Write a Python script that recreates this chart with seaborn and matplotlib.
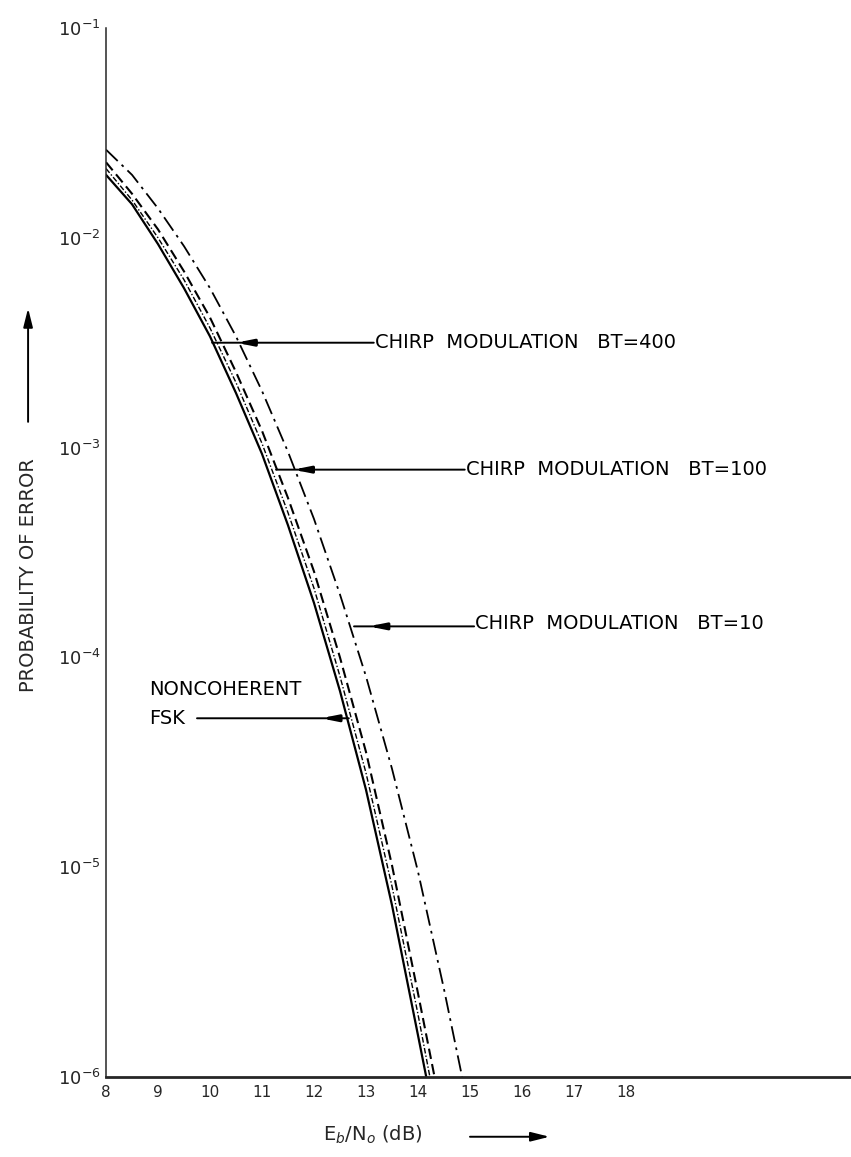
import numpy as np
import pandas as pd
import matplotlib
matplotlib.use("Agg")
import matplotlib.pyplot as plt
import seaborn as sns

# ---- data (Eb/No in dB, log10 of error probability) ----
ebno = [8.0, 8.5, 9.0, 9.5, 10.0, 10.5, 11.0, 11.5, 12.0, 12.5, 13.0, 13.5, 14.0]

fsk_db = ebno + [14.16]
fsk_log = [-1.70, -1.84, -2.03, -2.24, -2.47, -2.74, -3.03, -3.37, -3.74, -4.16, -4.63, -5.18, -5.80, -6.0]

bt400_db = ebno + [14.23]
bt400_log = [-1.67, -1.82, -2.00, -2.20, -2.43, -2.69, -2.98, -3.31, -3.67, -4.09, -4.55, -5.09, -5.70, -6.0]

bt100_db = ebno + [14.32]
bt100_log = [-1.64, -1.79, -1.96, -2.16, -2.38, -2.64, -2.92, -3.24, -3.59, -4.00, -4.45, -4.99, -5.60, -6.0]

bt10_db = ebno + [14.5, 14.85]
bt10_log = [-1.58, -1.70, -1.86, -2.04, -2.24, -2.47, -2.73, -3.02, -3.34, -3.70, -4.09, -4.53, -5.02, -5.58, -6.0]

series_names = ["FSK", "BT=400", "BT=100", "BT=10"]
x_ticks = [8, 9, 10, 11, 12, 13, 14, 15, 16, 17, 18]
x_tick_labels = ["8", "9", "10", "11", "12", "13", "14", "15", "16", "17", "18"]
y_ticks = [1e-1, 1e-2, 1e-3, 1e-4, 1e-5, 1e-6]
y_tick_labels = ["10$^{-1}$", "10$^{-2}$", "10$^{-3}$", "10$^{-4}$", "10$^{-5}$", "10$^{-6}$"]

frames = []
for name, xs, ls in zip(series_names,
                        [fsk_db, bt400_db, bt100_db, bt10_db],
                        [fsk_log, bt400_log, bt100_log, bt10_log]):
    frames.append(pd.DataFrame({"ebno": xs, "p": 10.0 ** np.array(ls), "curve": name}))
df = pd.concat(frames, ignore_index=True)

sns.set_style("white")
plt.rcParams["font.family"] = ["DejaVu Sans"]

fig = plt.figure(figsize=(8.51, 11.57), dpi=100)
ax = fig.add_axes([0.1246, 0.0691, 0.8754, 0.9067])

dashes = {"FSK": "", "BT=400": (4, 1.5, 1, 1.5), "BT=100": (5, 2.5), "BT=10": (9, 3, 1.5, 3)}
sns.lineplot(data=df, x="ebno", y="p", hue="curve", style="curve",
             palette={n: "black" for n in series_names}, dashes=dashes,
             estimator=None, sort=False, legend=False, ax=ax, linewidth=1.4)
for line, lw in zip(ax.get_lines(), [1.6, 1.0, 1.5, 1.3]):
    line.set_linewidth(lw)

ax.set_yscale("log")
ax.set_xlim(8, 22.33)
ax.set_ylim(1e-6, 1e-1)
ax.set_xticks(x_ticks)
ax.set_xticklabels(x_tick_labels, fontsize=11)
ax.set_yticks(y_ticks)
ax.set_yticklabels(y_tick_labels, fontsize=13)
ax.yaxis.set_minor_locator(matplotlib.ticker.NullLocator())
ax.tick_params(axis="x", direction="in", length=5, width=1.2, pad=6)
ax.tick_params(axis="y", direction="in", length=5, width=1.2, pad=4)
ax.set_xlabel("")
ax.set_ylabel("")
for s in ["top", "right"]:
    ax.spines[s].set_visible(False)
ax.spines["left"].set_linewidth(1.1)
ax.spines["bottom"].set_linewidth(2.0)

# ---- annotations ----
def leader(tip_x, y, end_x, blob_l, blob_r):
    ax.annotate("", xy=(tip_x, y), xytext=(end_x, y),
                arrowprops=dict(arrowstyle="-", lw=1.4, color="black", shrinkA=0, shrinkB=0))
    ax.annotate("", xy=(blob_l, y), xytext=(blob_r, y),
                arrowprops=dict(arrowstyle="-|>,head_length=0.9,head_width=0.18", lw=2.2,
                                color="black", shrinkA=0, shrinkB=0))

tfont = dict(fontsize=14, color="black", va="center")
leader(10.04, 10 ** -2.5, 13.15, 10.5, 10.9)
ax.text(13.17, 10 ** -2.5, "CHIRP  MODULATION   BT=400", ha="left", **tfont)

leader(11.27, 10 ** -3.105, 14.9, 11.6, 11.87)
ax.text(14.92, 10 ** -3.105, "CHIRP  MODULATION   BT=100", ha="left", **tfont)

leader(12.77, 10 ** -3.852, 15.08, 13.05, 13.27)
ax.text(15.1, 10 ** -3.84, "CHIRP  MODULATION   BT=10", ha="left", **tfont)

leader(12.67, 10 ** -4.29, 9.75, 12.13, 12.5)
ax.text(8.83, 10 ** -4.29, "FSK", ha="left", **tfont)
ax.text(8.83, 10 ** -4.155, "NONCOHERENT", ha="left", **tfont)

# axis titles with arrows
fig.text(0.438, 0.019, "E$_b$/N$_o$ (dB)", ha="center", va="center", fontsize=14)
fig.add_artist(matplotlib.patches.FancyArrowPatch((0.549, 0.0175), (0.649, 0.0175),
               transform=fig.transFigure, arrowstyle="-|>,head_length=0.8,head_width=0.2",
               lw=1.4, color="black", mutation_scale=14))
fig.text(0.033, 0.503, "PROBABILITY OF ERROR", rotation=90, ha="center", va="center", fontsize=14)
fig.add_artist(matplotlib.patches.FancyArrowPatch((0.033, 0.633), (0.033, 0.736),
               transform=fig.transFigure, arrowstyle="-|>,head_length=0.8,head_width=0.2",
               lw=1.4, color="black", mutation_scale=14))

fig.savefig("out.png", dpi=100, facecolor="white")
